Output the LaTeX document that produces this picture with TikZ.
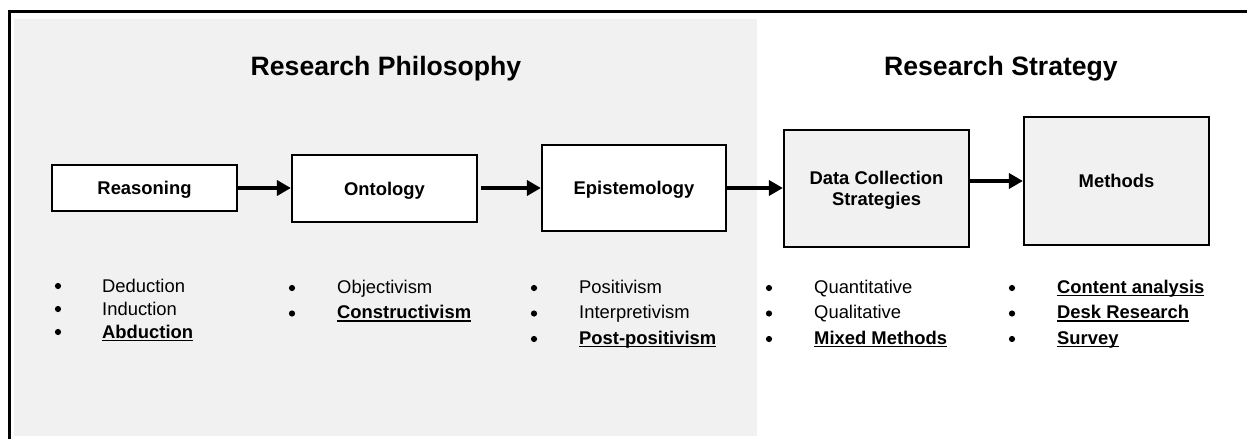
\documentclass[tikz,border=0pt]{standalone}
\usepackage{fontspec}
\setmainfont{Liberation Sans}
\usetikzlibrary{arrows.meta}
\definecolor{panelgray}{HTML}{F1F1F1}
% bold text with a thick rule under it
\newcommand\ulbold[1]{\setbox0\hbox{\bfseries #1}\rlap{\rule[-3.2pt]{\wd0}{1.6pt}}\box0}

\begin{document}
\begin{tikzpicture}[x=1pt,y=-1pt,
  box/.style={draw, line width=2.2pt, inner sep=0pt, align=center,
    font=\bfseries\fontsize{18.4}{21}\selectfont},
  oneline/.style={text height=13.2pt, text depth=0pt},
  title/.style={anchor=base, inner sep=0pt, font=\bfseries\fontsize{26.6}{30}\selectfont},
  item/.style={anchor=base west, inner sep=0pt, font=\fontsize{18.4}{21}\selectfont},
  dot/.style={circle, fill, inner sep=0pt, minimum size=6.2pt},
  flow/.style={line width=3.6pt, -{Triangle[length=14pt,width=15pt]}},
]
\useasboundingbox (0,0) rectangle (1247,439);

% shaded philosophy panel and frame
\fill[panelgray] (14,19) rectangle (757,436);
\draw[line width=3pt] (9.5,439) -- (9.5,11) -- (1247,11);

% headings
\node[title] (philo) at (386,75) {Research Philosophy};
\node[title] (strat) at (1001,75) {Research Strategy};

% stages
\node[box, oneline, fill=white, minimum width=185pt, minimum height=46pt] (reason) at (144.5,188) {Reasoning};
\node[box, oneline, fill=white, minimum width=185pt, minimum height=67pt] (onto) at (384.5,188.5) {Ontology};
\node[box, oneline, fill=white, minimum width=184pt, minimum height=86pt] (episte) at (634,188) {Epistemology};
\node[box, fill=panelgray, minimum width=185pt, minimum height=117pt] (data) at (876.5,188.5) {\rule{0pt}{17.2pt}Data Collection\\Strategies};
\node[box, oneline, fill=panelgray, minimum width=185pt, minimum height=128pt] (meth) at (1116.5,181) {Methods};

% flow between stages
\draw[flow] (reason.east) -- (reason.east -| onto.west);
\draw[flow, shorten <=3pt] (onto.east |- episte.west) -- (episte.west);
\draw[flow] (episte.east) -- (episte.east -| data.west);
\draw[flow] (data.east |- meth.west) -- (meth.west);

% reasoning options
\node[dot] (rb1) at (58,286) {};
\node[dot] (rb2) at (58,309) {};
\node[dot] (rb3) at (58,332) {};
\node[item] (r1) at (102,292) {Deduction};
\node[item] (r2) at (102,315) {Induction};
\node[item] (r3) at (102,338) {\ulbold{Abduction}};

% ontology options
\node[dot] (ob1) at (292,288) {};
\node[dot] (ob2) at (292,313.5) {};
\node[item] (o1) at (337,293) {Objectivism};
\node[item] (o2) at (337,318.5) {\ulbold{Constructivism}};

% epistemology options
\node[dot] (eb1) at (534,288) {};
\node[dot] (eb2) at (534,313.5) {};
\node[dot] (eb3) at (534,339) {};
\node[item] (e1) at (579,293) {Positivism};
\node[item] (e2) at (579,318.5) {Interpretivism};
\node[item] (e3) at (579,344) {\ulbold{Post-positivism}};

% data collection options
\node[dot] (db1) at (769,288) {};
\node[dot] (db2) at (769,313.5) {};
\node[dot] (db3) at (769,339) {};
\node[item] (d1) at (814,293) {Quantitative};
\node[item] (d2) at (814,318.5) {Qualitative};
\node[item] (d3) at (814,344) {\ulbold{Mixed Methods}};

% method options
\node[dot] (mb1) at (1012,288) {};
\node[dot] (mb2) at (1012,313.5) {};
\node[dot] (mb3) at (1012,339) {};
\node[item] (m1) at (1057,293) {\ulbold{Content analysis}};
\node[item] (m2) at (1057,318.5) {\ulbold{Desk Research}};
\node[item] (m3) at (1057,344) {\ulbold{Survey}};
\end{tikzpicture}
\end{document}
